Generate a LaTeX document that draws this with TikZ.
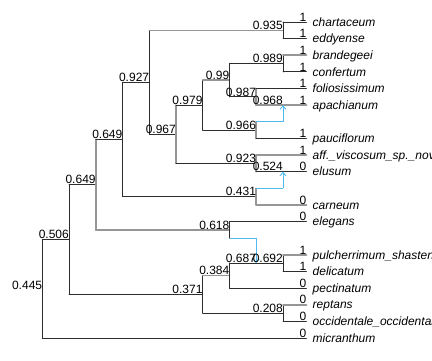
\documentclass[tikz,border=0pt]{standalone}
\usepackage{fontspec}
\setmainfont{Liberation Sans}
\usetikzlibrary{arrows.meta}
\definecolor{dk}{RGB}{45,45,45}
\definecolor{gy}{RGB}{150,150,150}
\definecolor{bl}{RGB}{80,185,240}
\newcommand\phyedge[4]{%
  \draw[#1] (#3) -- (#3 |- #4);
  \draw[#2] (#3 |- #4) -- (#4);}
\begin{document}
\begin{tikzpicture}[x=1pt,y=-1pt,
  dk/.style={draw=dk, line width=0.9pt, line cap=round},
  gy/.style={draw=gy, line width=1.6pt, line cap=round},
  hyb/.style={draw=bl, line width=0.9pt},
  harrow/.style={hyb, -{Straight Barb[length=3.5pt,width=6pt]}},
  nlab/.style={anchor=base east, inner sep=0pt, font=\fontsize{12}{14}\selectfont, yshift=0.8pt},
  tlab/.style={anchor=base west, inner sep=0pt, font=\fontsize{12}{14}\selectfont\itshape, yshift=-4.2pt, xshift=6pt}]
\useasboundingbox (0,0) rectangle (432,360);
\clip (0,0) rectangle (432,360);
% internal nodes
\coordinate (root)  at (42.3,288.7);
\coordinate (n506)  at (69.0,239.5);
\coordinate (n649l) at (95.8,184.66);
\coordinate (n649u) at (122.5,139.45);
\coordinate (n927)  at (149.3,82.3);
\coordinate (n935)  at (283.0,30.3);
\coordinate (n967)  at (176.0,134.25);
\coordinate (n979)  at (202.7,105.15);
\coordinate (n99)   at (229.5,80.2);
\coordinate (n989)  at (283.0,63.6);
\coordinate (n987)  at (256.2,96.8);
\coordinate (n968)  at (283.0,105.15);
\coordinate (n966)  at (256.2,130.1);
\coordinate (n923)  at (256.2,163.35);
\coordinate (n524)  at (283.0,171.67);
\coordinate (n431)  at (256.2,196.6);
\coordinate (n618)  at (229.5,229.9);
\coordinate (n371)  at (202.7,294.3);
\coordinate (n384)  at (229.5,275.6);
\coordinate (n687)  at (256.2,263.1);
\coordinate (n692)  at (283.0,263.1);
\coordinate (n208)  at (283.0,313.0);
% hybrid edge corners
\coordinate (h1) at (283.0,121.78);
\coordinate (h2) at (283.0,188.3);
\coordinate (h3) at (256.2,238.19);
% tips
\coordinate (t1)  at (306.5,22.0);
\coordinate (t2)  at (306.5,38.63);
\coordinate (t3)  at (306.5,55.26);
\coordinate (t4)  at (306.5,71.89);
\coordinate (t5)  at (306.5,88.52);
\coordinate (t6)  at (306.5,105.15);
\coordinate (t7)  at (306.5,138.41);
\coordinate (t8)  at (306.5,155.04);
\coordinate (t9)  at (306.5,171.67);
\coordinate (t10) at (306.5,204.93);
\coordinate (t11) at (306.5,221.56);
\coordinate (t12) at (306.5,254.82);
\coordinate (t13) at (306.5,271.45);
\coordinate (t14) at (306.5,288.08);
\coordinate (t15) at (306.5,304.71);
\coordinate (t16) at (306.5,321.34);
\coordinate (t17) at (306.5,337.97);
% edges (vertical style, horizontal style, parent, child)
\phyedge{dk}{dk}{root}{n506}
\phyedge{dk}{dk}{root}{t17}
\phyedge{dk}{dk}{n506}{n649l}
\phyedge{dk}{dk}{n506}{n371}
\phyedge{gy}{dk}{n649l}{n649u}
\phyedge{gy}{gy}{n649l}{n618}
\phyedge{dk}{dk}{n649u}{n927}
\phyedge{dk}{dk}{n649u}{n431}
\phyedge{dk}{gy}{n927}{n935}
\phyedge{dk}{dk}{n927}{n967}
\phyedge{gy}{dk}{n967}{n979}
\phyedge{gy}{dk}{n967}{n923}
\phyedge{dk}{gy}{n979}{n99}
\phyedge{dk}{dk}{n979}{n966}
\phyedge{dk}{dk}{n99}{n989}
\phyedge{dk}{dk}{n99}{n987}
\phyedge{gy}{dk}{n987}{t5}
\phyedge{gy}{gy}{n987}{n968}
\draw[gy] (n968) -- (t6);
\phyedge{dk}{dk}{n935}{t1}
\phyedge{dk}{dk}{n935}{t2}
\phyedge{dk}{gy}{n989}{t3}
\phyedge{dk}{dk}{n989}{t4}
\phyedge{gy}{dk}{n966}{t7}
\phyedge{gy}{gy}{n923}{t8}
\phyedge{gy}{dk}{n923}{n524}
\draw[dk] (n524) -- (t9);
\phyedge{gy}{gy}{n431}{t10}
\phyedge{dk}{dk}{n618}{t11}
\phyedge{dk}{gy}{n371}{n384}
\phyedge{dk}{dk}{n371}{n208}
\phyedge{dk}{dk}{n384}{n687}
\phyedge{dk}{dk}{n384}{t14}
\draw[dk] (n687) -- (n692);
\phyedge{dk}{gy}{n692}{t12}
\phyedge{dk}{dk}{n692}{t13}
\phyedge{dk}{gy}{n208}{t15}
\phyedge{dk}{dk}{n208}{t16}
% hybrid (reticulation) edges
\draw[gy] (n966) -- (n966 |- h1);
\draw[hyb] (n966 |- h1) -- (h1);
\draw[harrow] (h1) -- (n968);
\draw[gy] (n431) -- (n431 |- h2);
\draw[hyb] (n431 |- h2) -- (h2);
\draw[harrow] (h2) -- (n524);
\draw[dk] (n618) -- (n618 |- h3);
\draw[hyb] (n618 |- h3) -- (h3);
\draw[harrow] (h3) -- (n687);
% node labels
\node[nlab, yshift=-1.4pt] (l445) at (root) {0.445};
\node[nlab] (l506) at (n506) {0.506};
\node[nlab] (l649a) at (n649l) {0.649};
\node[nlab] (l649b) at (n649u) {0.649};
\node[nlab] (l927) at (n927) {0.927};
\node[nlab] (l935) at (n935) {0.935};
\node[nlab] (l967) at (n967) {0.967};
\node[nlab] (l979) at (n979) {0.979};
\node[nlab] (l99) at (n99) {0.99};
\node[nlab] (l989) at (n989) {0.989};
\node[nlab] (l987) at (n987) {0.987};
\node[nlab] (l968) at (n968) {0.968};
\node[nlab] (l966) at (n966) {0.966};
\node[nlab] (l923) at (n923) {0.923};
\node[nlab] (l524) at (n524) {0.524};
\node[nlab] (l431) at (n431) {0.431};
\node[nlab] (l618) at (n618) {0.618};
\node[nlab] (l371) at (n371) {0.371};
\node[nlab] (l384) at (n384) {0.384};
\node[nlab] (l687) at (n687) {0.687};
\node[nlab] (l692) at (n692) {0.692};
\node[nlab] (l208) at (n208) {0.208};
% tip values
\node[nlab] (v1) at (t1) {1};
\node[nlab] (v2) at (t2) {1};
\node[nlab] (v3) at (t3) {1};
\node[nlab] (v4) at (t4) {1};
\node[nlab] (v5) at (t5) {1};
\node[nlab] (v6) at (t6) {1};
\node[nlab] (v7) at (t7) {1};
\node[nlab] (v8) at (t8) {1};
\node[nlab] (v9) at (t9) {0};
\node[nlab] (v10) at (t10) {0};
\node[nlab] (v11) at (t11) {0};
\node[nlab] (v12) at (t12) {1};
\node[nlab] (v13) at (t13) {1};
\node[nlab] (v14) at (t14) {0};
\node[nlab] (v15) at (t15) {0};
\node[nlab] (v16) at (t16) {0};
\node[nlab] (v17) at (t17) {0};
% tip names
\node[tlab] (s1) at (t1) {chartaceum};
\node[tlab] (s2) at (t2) {eddyense};
\node[tlab] (s3) at (t3) {brandegeei};
\node[tlab] (s4) at (t4) {confertum};
\node[tlab] (s5) at (t5) {foliosissimum};
\node[tlab] (s6) at (t6) {apachianum};
\node[tlab] (s7) at (t7) {pauciflorum};
\node[tlab] (s8) at (t8) {aff.\_viscosum\_sp.\_nov};
\node[tlab] (s9) at (t9) {elusum};
\node[tlab] (s10) at (t10) {carneum};
\node[tlab] (s11) at (t11) {elegans};
\node[tlab] (s12) at (t12) {pulcherrimum\_shastense};
\node[tlab] (s13) at (t13) {delicatum};
\node[tlab] (s14) at (t14) {pectinatum};
\node[tlab] (s15) at (t15) {reptans};
\node[tlab] (s16) at (t16) {occidentale\_occidentale};
\node[tlab] (s17) at (t17) {micranthum};
\end{tikzpicture}
\end{document}
